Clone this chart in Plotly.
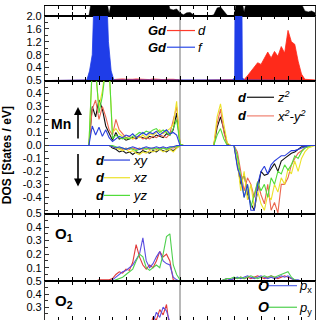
import numpy as np
import plotly.graph_objects as go

W = H = 320
energy = np.arange(-10, 10.001, 0.25)  # 81 points, eV

total_dos = [0,0,0,0,0,0,0,0,0,0, 0,0,0,0,2,2,2,2,2,0.25, 2,2,2,2,2,2,2,2,2,2,
             2,2,2,2,2,2,2,0.7,0.6,0.7, 0.3,0.1,0.3,0.35,0.1,0,0,0,0,0,
             0.1,0.8,0.9,0.5,0.05,0,0,2,2,0.4, 2,2,2,2,2,2,2,2,2,2,
             2,2,2,2,2,2,1.2,0.5,0.4,0.5, 0.3]

gd_d = [0,0,0,0,0,0,0,0,0,0, 0,0,0,0,0,0,0.02,0.02,0.02,0.02,
        0.03,0.04,0.03,0.05,0.04,0.03,0.04,0.05,0.04,0.03,
        0.04,0.03,0.05,0.04,0.04,0.03,0.04,0.05,0.04,0.03,
        0.01,0.01,0.01,0.01,0.01,0.01,0.01,0.01,0.01,0.01,
        0.01,0.01,0.02,0.02,0.01,0.01,0.01,0.01,0.02,0.03,
        0.15,0.28,0.4,0.55,0.5,0.7,0.88,0.7,0.9,0.75,
        1.05,0.85,1.55,1.2,1.12,0.6,0.2,0.04,0.03,0.02, 0.02]

gd_f_energy = [-10, -6.9, -6.7, -6.5, -6.3, -6.1, -5.9, -5.7, -5.5, -5.3, -5.1, -4.9,
               3.9, 4.05, 4.1, 4.3, 4.55, 4.62, 4.75, 10]
gd_f = [0, 0.02, 0.3, 0.8, 3.5, 8, 9, 7, 3.5, 1.2, 0.3, 0.02,
        0.02, 0.1, 5, 9, 5, 0.1, 0.02, 0]

Z10 = [0]*10
mn_up_xz = Z10 + [0,0,0,0,0.6,0.55,0.3,0.42,0.62,0.58,
                  0.1,0.13,0.09,0.07,0.05,0.06,0.05,0.07,0.06,0.08,
                  0.06,0.09,0.08,0.1,0.12,0.09,0.11,0.13,0.16,0.34,
                  0.01,0,0,0,0,0,0,0,0,0,
                  0,0.22,0.32,0.16,0.02,0,0,0,0,0] + Z10 + Z10 + [0]
mn_up_yz = Z10 + [0,0,0,0,0.62,0.6,0.25,0.38,0.6,0.62,
                  0.05,0.08,0.06,0.05,0.06,0.05,0.07,0.08,0.1,0.09,
                  0.11,0.1,0.12,0.13,0.1,0.12,0.1,0.08,0.13,0.2,
                  0.01,0,0,0,0,0,0,0,0,0,
                  0,0.08,0.13,0.05,0,0,0,0,0,0] + Z10 + Z10 + [0]
mn_up_z2 = Z10 + [0,0,0,0,0.3,0.22,0.35,0.28,0.15,0.1,
                  0.04,0.1,0.05,0.06,0.04,0.05,0.06,0.05,0.07,0.06,
                  0.05,0.07,0.06,0.08,0.07,0.06,0.09,0.08,0.12,0.25,
                  0.01,0,0,0,0,0,0,0,0,0,
                  0,0.14,0.22,0.12,0.01,0,0,0,0,0] + Z10 + Z10 + [0]
mn_up_x2y2 = Z10 + [0,0,0,0,0.28,0.35,0.2,0.3,0.22,0.12,
                    0.08,0.2,0.12,0.09,0.06,0.07,0.05,0.06,0.07,0.05,
                    0.06,0.05,0.07,0.06,0.08,0.07,0.06,0.09,0.2,0.3,
                    0.01,0,0,0,0,0,0,0,0,0,
                    0,0.17,0.28,0.1,0,0,0,0,0,0] + Z10 + Z10 + [0]
mn_up_xy = Z10 + [0,0,0,0,0.15,0.08,0.14,0.07,0.12,0.06,
                  0.03,0.05,0.07,0.06,0.08,0.07,0.09,0.06,0.08,0.1,
                  0.08,0.1,0.09,0.11,0.08,0.1,0.12,0.09,0.1,0.08,
                  0,0,0,0,0,0,0,0,0,0,
                  0,0,0,0,0,0,0,0,0,0] + Z10 + Z10 + [0]

mn_dn_xz = Z10 + Z10 + [-0.01,-0.02,-0.03,-0.04,-0.03,-0.05,-0.04,-0.06,-0.07,-0.05,
                        -0.06,-0.04,-0.05,-0.04,-0.03,-0.05,-0.04,-0.03,-0.05,-0.02] + Z10 + \
           [0,0,0,0,0,0,0,-0.12,-0.35,-0.2,
            -0.42,-0.3,-0.48,-0.35,-0.45,-0.5,-0.38,-0.42,-0.3,-0.36,
            -0.25,-0.3,-0.18,-0.22,-0.12,-0.2,-0.1,-0.05,-0.02,-0.01, 0]
mn_dn_yz = Z10 + Z10 + [0,-0.01,-0.02,-0.02,-0.03,-0.02,-0.03,-0.04,-0.03,-0.02,
                        -0.03,-0.02,-0.03,-0.02,-0.03,-0.02,-0.03,-0.02,-0.01,-0.01] + Z10 + \
           [0,0,0,0,0,0,0,-0.08,-0.25,-0.4,
            -0.3,-0.48,-0.38,-0.28,-0.35,-0.3,-0.4,-0.25,-0.3,-0.2,
            -0.22,-0.15,-0.19,-0.15,-0.08,-0.1,-0.05,-0.02,-0.01,0, 0]
mn_dn_z2 = Z10 + Z10 + [-0.02,-0.03,-0.05,-0.04,-0.06,-0.05,-0.07,-0.05,-0.06,-0.04,
                        -0.05,-0.06,-0.04,-0.05,-0.03,-0.04,-0.05,-0.03,-0.04,-0.02] + Z10 + \
           [0,0,0,0,0,0,0,-0.15,-0.3,-0.22,
            -0.38,-0.45,-0.5,-0.35,-0.2,-0.23,-0.22,-0.18,-0.14,-0.2,
            -0.12,-0.1,-0.08,-0.06,-0.05,-0.03,-0.01,-0.01,0,0, 0]
mn_dn_x2y2 = Z10 + Z10 + [-0.01,-0.02,-0.02,-0.03,-0.02,-0.03,-0.02,-0.03,-0.02,-0.03,
                          -0.02,-0.03,-0.02,-0.03,-0.02,-0.02,-0.03,-0.02,-0.02,-0.01] + Z10 + \
             [0,0,0,0,0,0,0,-0.05,-0.2,-0.35,
              -0.25,-0.3,-0.4,-0.28,-0.38,-0.45,-0.3,-0.5,-0.44,-0.52,
              -0.3,-0.3,-0.25,-0.15,-0.1,-0.06,-0.04,-0.02,-0.01,0, 0]
mn_dn_xy = Z10 + Z10 + [-0.01,-0.02,-0.01,-0.02,-0.03,-0.02,-0.01,-0.02,-0.03,-0.02,
                        -0.01,-0.02,-0.02,-0.01,-0.02,-0.01,-0.02,-0.01,-0.01,0] + Z10 + \
           [0,0,0,0,0,0,0,-0.17,-0.25,-0.4,
            -0.3,-0.5,-0.5,-0.3,-0.2,-0.16,-0.22,-0.15,-0.12,-0.1,
            -0.08,-0.08,-0.06,-0.04,-0.04,-0.03,-0.02,-0.01,0,0, 0]

o1_px = Z10 + Z10 + [0.01,0.03,0.05,0.07,0.08,0.1,0.12,0.16,0.2,0.32,
                     0.15,0.1,0.13,0.18,0.22,0.15,0.13,0.12,0.03,0.01] + Z10 + \
        [0,0,0,0.01,0.02,0.01,0.02,0.03,0.02,0.03,
         0.04,0.03,0.02,0.03,0.04,0.03,0.02,0.03,0.02,0.03,
         0.04,0.03,0.04,0.02,0.01,0.01,0,0,0,0, 0]
o1_py = Z10 + Z10 + [0,0.01,0.02,0.03,0.05,0.07,0.09,0.15,0.2,0.18,
                     0.1,0.08,0.1,0.12,0.1,0.2,0.33,0.35,0.12,0.05] + \
        [0.01,0,0,0,0,0,0,0,0,0] + \
        [0,0,0,0.01,0.02,0.02,0.03,0.02,0.03,0.02,
         0.03,0.04,0.03,0.02,0.03,0.04,0.03,0.04,0.03,0.04,
         0.05,0.06,0.07,0.03,0.01,0,0,0,0,0, 0]
o1_pz = Z10 + [0,0,0,0,0,0,0.01,0.01,0.01,0.01,
               0.02,0.05,0.07,0.06,0.09,0.08,0.14,0.27,0.18,0.12,
               0.09,0.12,0.1,0.15,0.22,0.18,0.2,0.15,0.01,0] + Z10 + \
        [0,0,0,0.01,0.02,0.01,0.02,0.02,0.03,0.02,
         0.03,0.02,0.03,0.04,0.03,0.02,0.03,0.04,0.03,0.02,
         0.03,0.04,0.03,0.02,0.01,0,0,0,0,0, 0]

o2_px = Z10 + Z10 + [0.01,0.02,0.04,0.05,0.07,0.08,0.1,0.12,0.14,0.12,
                     0.13,0.15,0.18,0.26,0.22,0.3,0.27,0.15,0.05,0.01] + Z10 + Z10 + Z10 + Z10 + [0]
o2_py = Z10 + Z10 + [0,0.01,0.02,0.03,0.04,0.05,0.06,0.08,0.09,0.1,
                     0.1,0.12,0.14,0.15,0.16,0.18,0.2,0.15,0.05,0.01] + Z10 + Z10 + Z10 + Z10 + [0]
o2_pz = Z10 + Z10 + [0.01,0.02,0.03,0.05,0.06,0.08,0.09,0.1,0.12,0.11,
                     0.12,0.14,0.22,0.2,0.28,0.24,0.32,0.12,0.04,0.01] + Z10 + Z10 + Z10 + Z10 + [0]

# ---------------------------------------------------------------- styling
C_YEL, C_GRN, C_BLK, C_RED, C_BLU = "#ece22a", "#52dc3a", "#111111", "#ea6650", "#2a3fdc"
FONT = "Liberation Sans, Arial, sans-serif"

X0, X1 = 45, 315
panels = [  # (top px, bottom px, range, tickvals)
    (0, 10, [0, 1], []),
    (10, 76, [0, 2.0], [0.4, 0.8, 1.2, 1.6, 2.0]),
    (76, 211.5, [-0.525, 0.5], [-0.4, -0.3, -0.2, -0.1, 0.0, 0.1, 0.2, 0.3, 0.4, 0.5]),
    (211.5, 280.5, [0, 0.5], [0.1, 0.2, 0.3, 0.4, 0.5]),
    (280.5, 320, [0.2, 0.5], [0.2, 0.3, 0.4, 0.5]),
]
minor_dt = [0.5, 0.2, 0.05, 0.05, 0.05]

fig = go.Figure()
layout = dict(width=W, height=H, margin=dict(l=0, r=0, t=0, b=0),
              paper_bgcolor="white", plot_bgcolor="white", showlegend=False,
              font=dict(family=FONT, color="black", size=11))
for k, (top, bot, rng, tv) in enumerate(panels):
    s = "" if k == 0 else str(k + 1)
    layout["xaxis" + s] = dict(domain=[X0 / W, X1 / W], range=[-10, 10], anchor="y" + s,
                               showline=True, linecolor="black", linewidth=1.4, mirror="ticks",
                               ticks="inside", ticklen=4, tickwidth=1.2, tickcolor="black",
                               tick0=0, dtick=2, showticklabels=False, showgrid=False, zeroline=False,
                               minor=dict(dtick=1, ticks="inside", ticklen=3, tickwidth=1, tickcolor="black"))
    ydict = dict(domain=[1 - bot / H, 1 - top / H], range=rng, anchor="x" + s,
                 showline=True, linecolor="#333333", linewidth=1.2, mirror=True,
                 showgrid=False, zeroline=False)
    if tv:
        ydict.update(ticks="inside", ticklen=4, tickwidth=1, tickcolor="#333",
                     tickvals=tv, ticktext=["%.1f" % v for v in tv],
                     tickfont=dict(size=11, color="black"),
                     minor=dict(dtick=minor_dt[k], ticks="inside", ticklen=2.5, tickwidth=1, tickcolor="#333"))
    else:
        ydict.update(showticklabels=False, ticks="")
    layout["yaxis" + s] = ydict
fig.update_layout(**layout)

def line(xa, ya, y, color, x=energy, w=1.1):
    fig.add_trace(go.Scatter(x=x, y=y, mode="lines", line=dict(color=color, width=w),
                             xaxis=xa, yaxis=ya, hoverinfo="skip"))

# top panel: total DOS (black filled)
fig.add_trace(go.Scatter(x=energy, y=total_dos, mode="lines", fill="tozeroy",
                         line=dict(color="black", width=0.5), fillcolor="black", xaxis="x", yaxis="y"))
# Gd panel
fig.add_trace(go.Scatter(x=energy, y=gd_d, mode="lines", fill="tozeroy",
                         line=dict(color="#ff2a1a", width=0.8), fillcolor="#ff2a1a", xaxis="x2", yaxis="y2"))
fig.add_trace(go.Scatter(x=gd_f_energy, y=gd_f, mode="lines", fill="tozeroy",
                         line=dict(color="#1f3de8", width=0.8), fillcolor="#1f3de8", xaxis="x2", yaxis="y2"))
# Mn panel
for up, dn, c in [(mn_up_z2, mn_dn_z2, C_BLK), (mn_up_x2y2, mn_dn_x2y2, C_RED),
                  (mn_up_xz, mn_dn_xz, C_YEL), (mn_up_yz, mn_dn_yz, C_GRN),
                  (mn_up_xy, mn_dn_xy, C_BLU)]:
    line("x3", "y3", dn, c)
    line("x3", "y3", up, c)
# O panels
for ya, xa, arrs in [("y4", "x4", (o1_pz, o1_px, o1_py)), ("y5", "x5", (o2_pz, o2_px, o2_py))]:
    for arr, c in zip(arrs, ["#e03a3a", "#5a4ee0", "#4fd04f"]):
        line(xa, ya, arr, c)

# Fermi level
fig.add_shape(type="line", xref="x2", yref="paper", x0=0, x1=0, y0=0, y1=1,
              line=dict(color="#9a9a9a", width=1.4), layer="below")

def P(x, y):
    return x / W, 1 - y / H

ann = []
def text(x, y, s, size=13, anchor="left"):
    px, py = P(x, y)
    ann.append(dict(x=px, y=py, xref="paper", yref="paper", text=s, showarrow=False,
                    xanchor=anchor, yanchor="middle", font=dict(size=size, family=FONT, color="black")))
def seg(x0, x1, y, color):
    a, b = P(x0, y)
    c, _ = P(x1, y)
    fig.add_shape(type="line", xref="paper", yref="paper", x0=a, x1=c, y0=b, y1=b,
                  line=dict(color=color, width=1.2))

# Gd legend
for y, c, orb in [(25, "#ff3a2a", "d"), (42, "#2a4ae8", "f")]:
    text(146, y, "<b><i>Gd</i></b>")
    seg(167, 195, y, c)
    text(196, y, "<i>%s</i>" % orb)
# Mn legend
for y, c, orb in [(93, C_BLK, "z<sup>2</sup>"), (112, "#f08070", "x<sup>2</sup>-y<sup>2</sup>")]:
    text(236, y, "<b><i>d</i></b>")
    seg(247, 274, y, c)
    text(275, y, "<i>%s</i>" % orb)
for y, c, orb in [(157, C_BLU, "xy"), (175, C_YEL, "xz"), (193, C_GRN, "yz")]:
    text(94, y, "<b><i>d</i></b>")
    seg(104, 130, y, c)
    text(131, y, "<i>%s</i>" % orb)
# O legend
for y, c, orb in [(285, "#5a6ae8", "x"), (307, "#4fd04f", "y")]:
    text(256, y, "<b><i>O</i></b>", size=14)
    seg(268, 297, y, c)
    text(297, y + 1, "<i>p</i><sub>%s</sub>" % orb)

text(49, 120, "<b>Mn</b>", size=14)
text(53, 233, "<b>O<sub>1</sub></b>", size=15)
text(53, 301, "<b>O<sub>2</sub></b>", size=15)

# spin arrows
for head, tail in [((78, 103), (78, 136)), ((78, 184), (78, 150))]:
    hx, hy = P(*head)
    ann.append(dict(x=hx, y=hy, xref="paper", yref="paper", text="", showarrow=True,
                    ax=0, ay=tail[1] - head[1], axref="pixel", ayref="pixel",
                    arrowhead=2, arrowsize=1, arrowwidth=1.6, arrowcolor="black"))

# y title
ann.append(dict(x=7 / W, y=1 - 152 / H, xref="paper", yref="paper", text="<b>DOS [States / eV]</b>",
                showarrow=False, textangle=-90, font=dict(size=12, family=FONT, color="black"),
                xanchor="center", yanchor="middle"))
fig.update_layout(annotations=ann)

fig.write_html("out.html", config={"displayModeBar": False},
               post_script="document.body.style.margin='0';document.body.style.overflow='hidden';")
